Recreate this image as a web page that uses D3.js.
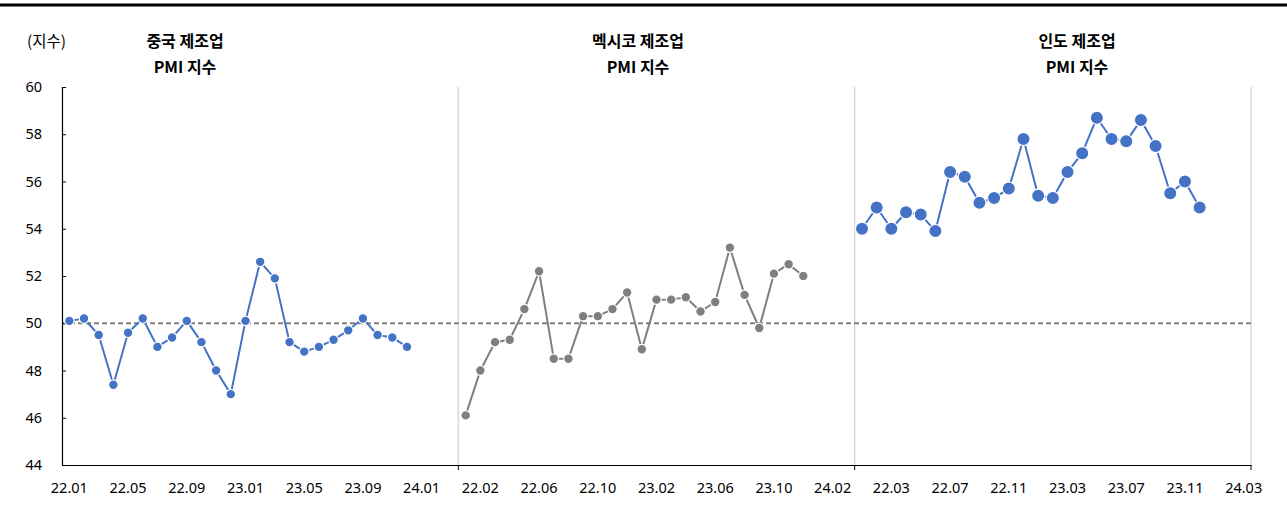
<!DOCTYPE html>
<html>
<head>
<meta charset="utf-8">
<script src="https://cdn.jsdelivr.net/npm/d3@7"></script>
<style>
  html, body { margin: 0; padding: 0; background: #fff; }
  svg { display: block; }
</style>
</head>
<body>
<svg id="chart" width="1287" height="531"></svg>
<script>
// ---- data ----
const months = ["22.01","22.02","22.03","22.04","22.05","22.06","22.07","22.08","22.09","22.10","22.11","22.12",
                "23.01","23.02","23.03","23.04","23.05","23.06","23.07","23.08","23.09","23.10","23.11","23.12",
                "24.01","24.02","24.03"];
const panelNames = ["중국", "멕시코", "인도"];
const panelTitles = [["중국 제조업", "PMI 지수"], ["멕시코 제조업", "PMI 지수"], ["인도 제조업", "PMI 지수"]];
const chinaValues  = [50.1,50.2,49.5,47.4,49.6,50.2,49.0,49.4,50.1,49.2,48.0,47.0,50.1,52.6,51.9,49.2,48.8,49.0,49.3,49.7,50.2,49.5,49.4,49.0];
const mexicoValues = [46.1,48.0,49.2,49.3,50.6,52.2,48.5,48.5,50.3,50.3,50.6,51.3,48.9,51.0,51.0,51.1,50.5,50.9,53.2,51.2,49.8,52.1,52.5,52.0];
const indiaValues  = [54.0,54.9,54.0,54.7,54.6,53.9,56.4,56.2,55.1,55.3,55.7,57.8,55.4,55.3,56.4,57.2,58.7,57.8,57.7,58.6,57.5,55.5,56.0,54.9];
const yTicks = [44,46,48,50,52,54,56,58,60];
const refValue = 50;
const yUnit = "(지수)";

(function () {
// ---- layout ----
const svg = d3.select("#chart");
const pLeft = 62, pRight = 1251, pTop = 87, pBottom = 465;
const nPer = months.length;
const categories = [];
panelNames.forEach((p, pi) => months.forEach((m, mi) => categories.push({key: pi + "-" + m, label: m, idx: pi * nPer + mi})));

const x = d3.scaleBand().domain(categories.map(d => d.key)).range([pLeft, pRight]).padding(0);
const y = d3.scaleLinear().domain([44, 60]).range([pBottom, pTop]);

const fontNum = "'Noto Sans', 'Open Sans', sans-serif";
const fontKr = "'Noto Sans CJK KR', 'Noto Sans', sans-serif";

// top rule
svg.append("line").attr("x1", 0).attr("x2", 1287).attr("y1", 5).attr("y2", 5)
  .attr("stroke", "#000").attr("stroke-width", 3);

const boundaryX = k => k < 3 ? x(categories[k * nPer].key) : pRight;

// panel separators (light gray)
[1, 2, 3].forEach(k => {
  const xx = boundaryX(k);
  svg.append("line").attr("x1", xx).attr("x2", xx).attr("y1", pTop).attr("y2", pBottom)
    .attr("stroke", "#d9d9d9").attr("stroke-width", 1.5);
});

// reference line at 50
svg.append("line").attr("x1", pLeft).attr("x2", pRight).attr("y1", y(refValue)).attr("y2", y(refValue))
  .attr("stroke", "#808080").attr("stroke-width", 1.8).attr("stroke-dasharray", "5,3");

// y axis
const yAxis = d3.axisLeft(y).tickValues(yTicks).tickSize(-4).tickPadding(20).tickFormat(d3.format("d"));
const gy = svg.append("g").attr("transform", `translate(${pLeft},0)`).call(yAxis);
gy.select(".domain").attr("stroke", "#000").attr("stroke-width", 1.2);
gy.selectAll(".tick line").attr("stroke", "#000");
gy.selectAll("text").attr("font-family", fontNum).attr("font-size", 14.5).attr("fill", "#000");

// x axis
const labelKeys = categories.filter(d => d.idx % 4 === 0).map(d => d.key);
const labelMap = new Map(categories.map(d => [d.key, d.label]));
const xAxis = d3.axisBottom(x).tickValues(labelKeys).tickSize(0).tickPadding(18).tickFormat(k => labelMap.get(k));
const gx = svg.append("g").attr("transform", `translate(0,${pBottom})`).call(xAxis);
gx.select(".domain").attr("stroke", "#000").attr("stroke-width", 1.2);
gx.selectAll("text").attr("font-family", fontNum).attr("font-size", 14.5).attr("fill", "#000");
// boundary ticks
[1, 2, 3].forEach(k => {
  const xx = boundaryX(k);
  gx.append("line").attr("x1", xx).attr("x2", xx).attr("y1", 0).attr("y2", 5).attr("stroke", "#000").attr("stroke-width", 1);
});

// series
const series = [
  {panel: 0, values: chinaValues, color: "#4472C4", r: 4.8},
  {panel: 1, values: mexicoValues, color: "#7F7F7F", r: 4.8},
  {panel: 2, values: indiaValues, color: "#4472C4", r: 6.6}
];
series.forEach(s => {
  const pts = s.values.map((v, i) => ({cx: x(categories[s.panel * nPer + i].key) + x.bandwidth() / 2, v}));
  const line = d3.line().x(d => d.cx).y(d => y(d.v));
  svg.append("path").datum(pts).attr("d", line).attr("fill", "none")
    .attr("stroke", s.color).attr("stroke-width", 2).attr("stroke-linejoin", "round");
  svg.append("g").selectAll("circle").data(pts).join("circle")
    .attr("cx", d => d.cx).attr("cy", d => y(d.v)).attr("r", s.r)
    .attr("fill", s.color).attr("stroke", "#fff").attr("stroke-width", 1.2);
});

// unit label
svg.append("text").attr("x", 27).attr("y", 47).text(yUnit)
  .attr("font-family", fontKr).attr("font-size", 15.5).attr("fill", "#000");

// titles
const titleX = [185, 638, 1077];
panelTitles.forEach((t, i) => {
  t.forEach((line, j) => {
    svg.append("text").attr("x", titleX[i]).attr("y", 47 + j * 26).attr("text-anchor", "middle")
      .text(line).attr("font-family", fontKr).attr("font-weight", "bold").attr("font-size", 16).attr("fill", "#000");
  });
});
})();
</script>
</body>
</html>
